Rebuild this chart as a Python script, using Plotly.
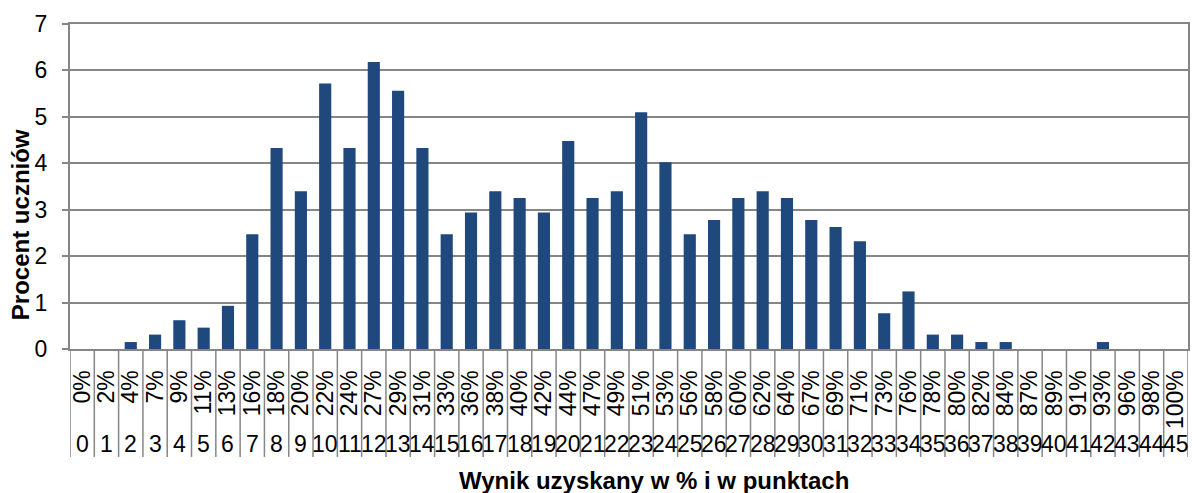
import plotly.graph_objects as go

# wynik w punktach (0-45) i w procentach
punkty = ["0", "1", "2", "3", "4", "5", "6", "7", "8", "9",
          "10", "11", "12", "13", "14", "15", "16", "17", "18", "19",
          "20", "21", "22", "23", "24", "25", "26", "27", "28", "29",
          "30", "31", "32", "33", "34", "35", "36", "37", "38", "39",
          "40", "41", "42", "43", "44", "45"]
procent_wyniku = ["0%", "2%", "4%", "7%", "9%", "11%", "13%", "16%", "18%", "20%",
                  "22%", "24%", "27%", "29%", "31%", "33%", "36%", "38%", "40%", "42%",
                  "44%", "47%", "49%", "51%", "53%", "56%", "58%", "60%", "62%", "64%",
                  "67%", "69%", "71%", "73%", "76%", "78%", "80%", "82%", "84%", "87%",
                  "89%", "91%", "93%", "96%", "98%", "100%"]
procent_uczniow = [0, 0, 0.15, 0.31, 0.62, 0.46, 0.93, 2.47, 4.33, 3.40,
                   5.72, 4.33, 6.18, 5.56, 4.33, 2.47, 2.94, 3.40, 3.25, 2.94,
                   4.48, 3.25, 3.40, 5.10, 4.02, 2.47, 2.78, 3.25, 3.40, 3.25,
                   2.78, 2.63, 2.32, 0.77, 1.24, 0.31, 0.31, 0.15, 0.15, 0,
                   0, 0, 0.15, 0, 0, 0]

SZARY = "#868686"
FONT = "Liberation Sans Narrow, Liberation Sans, Arial, sans-serif"

fig = go.Figure(go.Bar(
    x=punkty, y=procent_uczniow,
    marker=dict(color="#1f497d", line=dict(width=0)),
    width=0.5,
))

# druga linia etykiet osi X (punkty)
for p in punkty:
    fig.add_annotation(x=p, xref="x", y=-0.292, yref="paper", text=p,
                       showarrow=False, xanchor="center", yanchor="middle",
                       font=dict(family=FONT, size=23, color="black"))

# pionowe kreski oddzielające kategorie
for i in range(len(punkty) + 1):
    fig.add_shape(type="line", xref="x", yref="paper",
                  x0=i - 0.5, x1=i - 0.5, y0=0, y1=-0.332,
                  line=dict(color=SZARY, width=1.5))

fig.add_annotation(text="<b>Procent uczniów</b>", x=-0.0446, xref="paper",
                   y=0.3815, yref="paper", textangle=-90, showarrow=False,
                   xanchor="center", yanchor="middle",
                   font=dict(family="Liberation Sans, Arial", size=24, color="black"))
fig.add_annotation(text="<b>Wynik uzyskany w % i w punktach</b>", x=0.522, xref="paper",
                   y=-0.406, yref="paper", showarrow=False,
                   xanchor="center", yanchor="middle",
                   font=dict(family="Liberation Sans, Arial", size=24, color="black"))

fig.update_layout(
    width=1192, height=493,
    margin=dict(l=70, r=2, t=24, b=144),
    plot_bgcolor="white", paper_bgcolor="white",
    showlegend=False,
    font=dict(family=FONT, size=23, color="black"),
    xaxis=dict(
        type="category", range=[-0.5, 45.5],
        tickvals=punkty, ticktext=procent_wyniku, tickangle=-90,
        ticks="", ticklabelstandoff=10,
        showline=True, linecolor=SZARY, linewidth=2, mirror=True,
        showgrid=False,
    ),
    yaxis=dict(
        range=[0, 7], dtick=1,
        showgrid=True, gridcolor=SZARY, gridwidth=2,
        showline=True, linecolor=SZARY, linewidth=2, mirror=True,
        ticks="outside", ticklen=6, tickcolor=SZARY, tickwidth=2,
        ticklabelstandoff=10, zeroline=False,
    ),
)

fig.write_html("out.html", config={"displayModeBar": False},
               post_script="document.body.style.margin='0';")
